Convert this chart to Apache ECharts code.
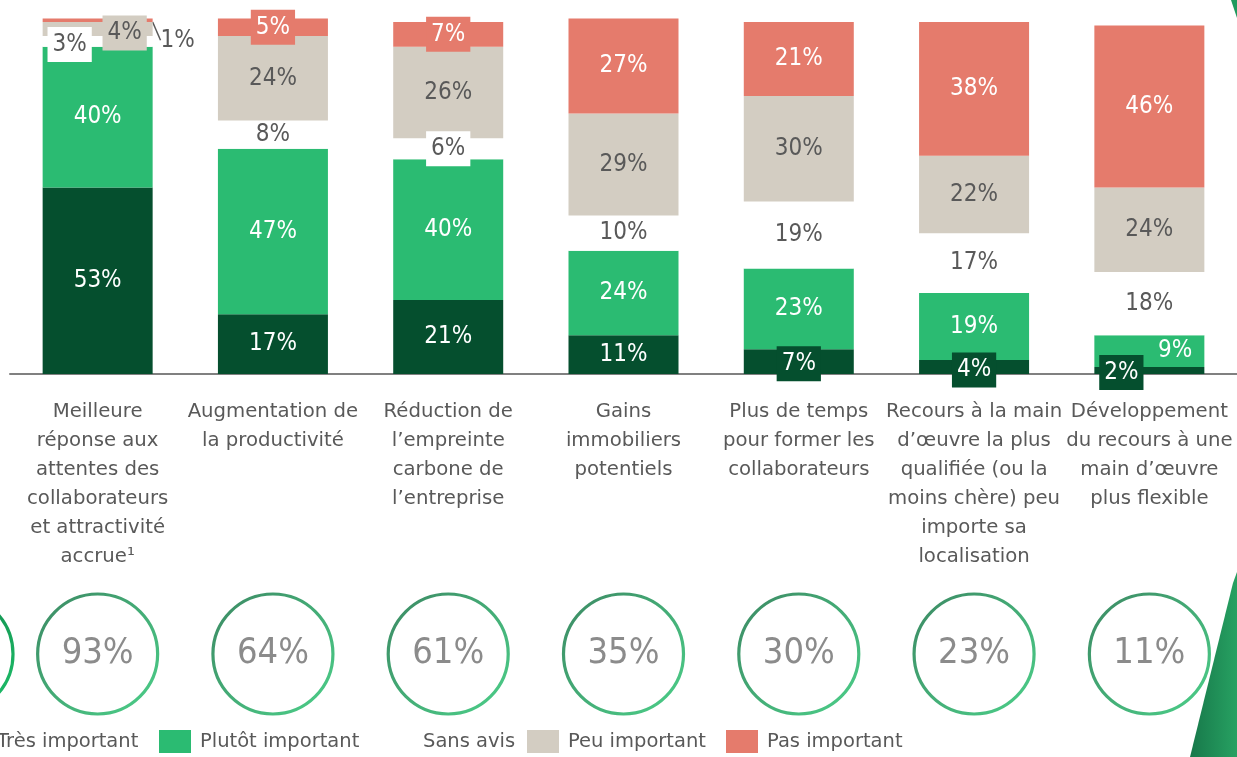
<!DOCTYPE html>
<html>
<head>
<meta charset="utf-8">
<script src="https://cdn.jsdelivr.net/npm/echarts@6/dist/echarts.min.js"></script>
<style>
  html, body { margin: 0; padding: 0; background: #ffffff; }
  #chart { width: 1237px; height: 757px; }
</style>
</head>
<body>
<div id="chart"></div>
<script>
// ---- data ----
const categories = [
  'Meilleure\nréponse aux\nattentes des\ncollaborateurs\net attractivité\naccrue¹',
  'Augmentation de\nla productivité',
  'Réduction de\nl’empreinte\ncarbone de\nl’entreprise',
  'Gains\nimmobiliers\npotentiels',
  'Plus de temps\npour former les\ncollaborateurs',
  'Recours à la main\nd’œuvre la plus\nqualifiée (ou la\nmoins chère) peu\nimporte sa\nlocalisation',
  'Développement\ndu recours à une\nmain d’œuvre\nplus flexible'
];
const seriesNames = ['Très important', 'Plutôt important', 'Sans avis', 'Peu important', 'Pas important'];
const tresImportant   = [53, 17, 21, 11, 7, 4, 2];
const plutotImportant = [40, 47, 40, 24, 23, 19, 9];
const sansAvis        = [3, 8, 6, 10, 19, 17, 18];
const peuImportant    = [4, 24, 26, 29, 30, 22, 24];
const pasImportant    = [1, 5, 7, 27, 21, 38, 46];
const totalImportant  = [93, 64, 61, 35, 30, 23, 11];

// ---- styles ----
const NUM_FONT = '"DejaVu Sans Condensed","Liberation Sans Narrow","DejaVu Sans",sans-serif';
const TXT_FONT = '"DejaVu Sans",sans-serif';
const GREY = '#595959';
const COLORS = ['#054f2e', '#2bbb72', '#ffffff', '#d3cdc2', '#e57b6c'];
const LABEL_COLORS = ['#ffffff', '#ffffff', GREY, GREY, '#ffffff'];
const LEGEND_LEFT = [-44, 159, 382, 527, 726];

function box(bg, extra) {
  return Object.assign({ backgroundColor: bg, padding: [4, 5] }, extra || {});
}
// per-series label overrides keyed by category index
const specials = [
  { 4: box(COLORS[0], { offset: [0, 2] }), 5: box(COLORS[0], { offset: [0, 3] }), 6: box(COLORS[0], { offset: [-28, 2] }) },
  { 6: { position: 'insideRight', distance: 12 } },
  { 0: box('#ffffff', { offset: [-28, 3] }), 2: box('#ffffff') },
  { 0: box(COLORS[3], { offset: [27, 4] }) },
  { 0: { color: GREY }, 1: box(COLORS[4], { offset: [0, 3] }), 2: box(COLORS[4], { offset: [0, 1] }) }
];
const seriesData = [tresImportant, plutotImportant, sansAvis, peuImportant, pasImportant];

const barSeries = seriesData.map(function (arr, s) {
  return {
    name: seriesNames[s],
    type: 'bar',
    stack: 'total',
    barWidth: 110,
    xAxisIndex: 0, yAxisIndex: 0,
    clip: false,
    itemStyle: { color: COLORS[s] },
    label: {
      show: true,
      position: 'inside',
      formatter: '{c}%',
      color: LABEL_COLORS[s],
      fontFamily: NUM_FONT,
      fontSize: 24,
      lineHeight: 27
    },
    labelLine: { show: false },
    labelLayout: s === 4 ? function (p) { if (p.dataIndex === 0) return { dx: 80, dy: 20 }; } : undefined,
    emphasis: { disabled: true },
    data: arr.map(function (v, i) {
      const item = { value: v };
      if (specials[s][i]) item.label = specials[s][i];
      if (s === 4 && i === 0) item.labelLine = { show: true, lineStyle: { color: GREY, width: 1.5 } };
      return item;
    })
  };
});

const ringGrad = new echarts.graphic.LinearGradient(0, 0, 1, 1, [
  { offset: 0, color: '#0b6b3c' },
  { offset: 1, color: '#1fc46c' }
]);

const circleSeries = {
  type: 'scatter',
  xAxisIndex: 1, yAxisIndex: 1,
  symbol: 'circle',
  symbolSize: 120,
  clip: false,
  silent: true,
  itemStyle: { color: '#ffffff', borderColor: ringGrad, borderWidth: 3.2 },
  label: {
    show: true, position: 'inside',
    formatter: function (p) { return p.data[2] + '%'; },
    color: '#6e6e6e', fontFamily: NUM_FONT, fontSize: 36
  },
  data: totalImportant.map(function (v, i) { return [i, 0, v]; })
};

const legends = seriesNames.map(function (n, i) {
  return {
    data: [n],
    left: LEGEND_LEFT[i], top: 730, padding: 0,
    icon: 'rect', itemWidth: 32, itemHeight: 23,
    textStyle: { color: GREY, fontFamily: TXT_FONT, fontSize: 19.5, padding: [6, 0, 0, 4] },
    selectedMode: false
  };
});

const option = {
  animation: false,
  backgroundColor: '#ffffff',
  grid: [
    { left: 10, width: 1232, top: 15, height: 359 },
    { left: 10, width: 1232, top: 594, height: 120 }
  ],
  xAxis: [
    {
      type: 'category', gridIndex: 0, data: categories,
      axisLine: { lineStyle: { color: '#808080', width: 2 } },
      axisTick: { show: false },
      axisLabel: { interval: 0, margin: 23, color: GREY, fontFamily: TXT_FONT, fontSize: 19.7, lineHeight: 29 }
    },
    { type: 'value', gridIndex: 1, min: -0.5, max: 6.5, show: false }
  ],
  yAxis: [
    { type: 'value', gridIndex: 0, min: 0, max: 102, show: false },
    { type: 'value', gridIndex: 1, min: -1, max: 1, show: false }
  ],
  legend: legends,
  graphic: [
    { type: 'circle', shape: { cx: -47, cy: 654, r: 60 }, style: { fill: 'none', stroke: ringGrad, lineWidth: 3.2 }, silent: true },
    { type: 'polygon', shape: { points: [[1233, 583], [1237, 572], [1237, 757], [1190, 757]] },
      style: { fill: new echarts.graphic.LinearGradient(0, 0, 1, 0, [{ offset: 0, color: '#17784a' }, { offset: 1, color: '#27a162' }]) }, silent: true },
    { type: 'polygon', shape: { points: [[1231, 0], [1237, 0], [1237, 18]] }, style: { fill: '#1f9a5e' }, silent: true }
  ],
  series: barSeries.concat([circleSeries])
};

const chart = echarts.init(document.getElementById('chart'), null, { renderer: 'canvas' });
chart.setOption(option);
</script>
</body>
</html>
